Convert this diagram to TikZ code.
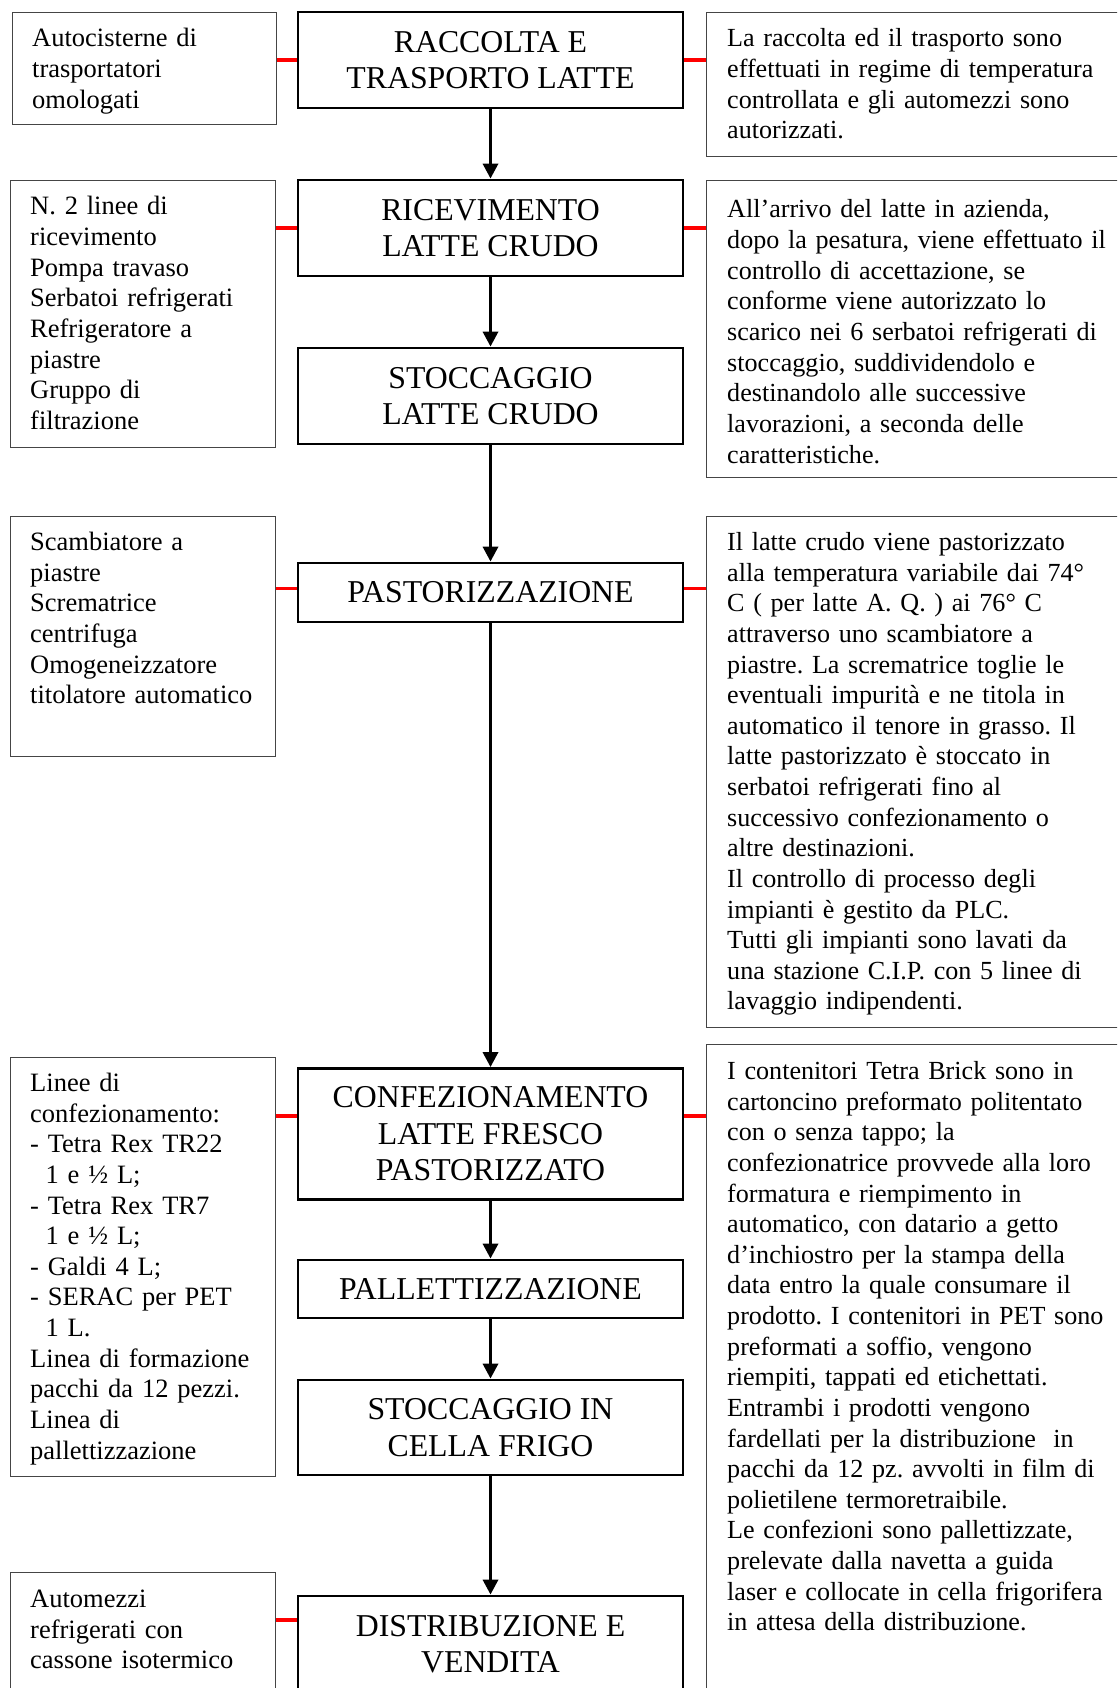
\documentclass[tikz,border=0pt]{standalone}
\usepackage{fontspec}
\setmainfont{Liberation Serif}
\usetikzlibrary{arrows.meta}
\definecolor{sidegray}{HTML}{454545}
\frenchspacing
\begin{document}
\begin{tikzpicture}[x=1pt,y=-1pt,
  cbox/.style={draw=black, line width=2.8pt, minimum width=385pt, align=center,
    inner sep=0pt, font=\fontsize{31.8pt}{36.6pt}\selectfont},
  sbox/.style={draw=sidegray, line width=1.4pt, anchor=north west, inner sep=0pt},
  txt/.style={anchor=base west, inner sep=0pt, align=left},
  ltxt/.style={txt, text width=262pt, font=\fontsize{26.5pt}{30.63pt}\selectfont},
  rtxt/.style={txt, text width=400pt, font=\fontsize{26.1pt}{30.63pt}\selectfont},
  arr/.style={line width=3.3pt, -{Triangle[width=15pt,length=15pt]}},
  redc/.style={draw=red, line width=3.6pt}]
\useasboundingbox (0,0) rectangle (1117,1688);
\clip (0,0) rectangle (1117,1688);
\fill[white] (0,0) rectangle (1117,1688);

% centre column
\node[cbox, minimum height=96pt] (C1) at (490.5,60) {RACCOLTA E\\TRASPORTO LATTE};
\node[cbox, minimum height=96pt] (C2) at (490.5,228) {RICEVIMENTO\\LATTE CRUDO};
\node[cbox, minimum height=96pt] (C3) at (490.5,396) {STOCCAGGIO\\LATTE CRUDO};
\node[cbox, minimum height=59pt] (C4) at (490.5,592.5) {PASTORIZZAZIONE};
\node[cbox, minimum height=131pt] (C5) at (490.5,1134) {CONFEZIONAMENTO\\LATTE FRESCO\\PASTORIZZATO};
\node[cbox, minimum height=58pt] (C6) at (490.5,1289) {PALLETTIZZAZIONE};
\node[cbox, minimum height=95pt] (C7) at (490.5,1427.5) {STOCCAGGIO IN\\CELLA FRIGO};
\node[cbox, minimum height=96pt] (C8) at (490.5,1644) {DISTRIBUZIONE E\\VENDITA};

% left boxes
\node[sbox, minimum width=264pt, minimum height=112pt] (L1) at (12,12) {};
\node[sbox, minimum width=265pt, minimum height=267pt] (L2) at (10,180) {};
\node[sbox, minimum width=265pt, minimum height=240pt] (L3) at (10,516) {};
\node[sbox, minimum width=265pt, minimum height=419pt] (L4) at (10,1057) {};
\node[sbox, minimum width=265pt, minimum height=140pt] (L5) at (10,1572) {};

% right boxes
\node[sbox, minimum width=430pt, minimum height=144pt] (R1) at (706,12) {};
\node[sbox, minimum width=430pt, minimum height=297pt] (R2) at (706,180) {};
\node[sbox, minimum width=430pt, minimum height=511pt] (R3) at (706,516) {};
\node[sbox, minimum width=430pt, minimum height=680pt] (R4) at (706,1044) {};

% texts of the left boxes
\node[ltxt] (L1t) at (32,47) {Autocisterne di\\trasportatori\\omologati};
\node[ltxt] (L2t) at (30,215) {N. 2 linee di\\ricevimento\\Pompa travaso\\Serbatoi refrigerati\\Refrigeratore a\\piastre\\Gruppo di\\filtrazione};
\node[ltxt] (L3t) at (30,550.5) {Scambiatore a\\piastre\\Scrematrice\\centrifuga\\Omogeneizzatore\\titolatore automatico};
\node[ltxt] (L4t) at (30,1091.5) {Linee di\\confezionamento:\\- Tetra Rex TR22\\\hspace*{0.583em}1 e ½ L;\\- Tetra Rex TR7\\\hspace*{0.583em}1 e ½ L;\\- Galdi 4 L;\\- SERAC per PET\\\hspace*{0.583em}1 L.\\Linea di formazione\\pacchi da 12 pezzi.\\Linea di\\pallettizzazione};
\node[ltxt] (L5t) at (30,1607.5) {Automezzi\\refrigerati con\\cassone isotermico};

% texts of the right boxes
\node[rtxt] (R1t) at (727,47) {La raccolta ed il trasporto sono\\effettuati in regime di temperatura\\controllata e gli automezzi sono\\autorizzati.};
\node[rtxt] (R2t) at (727,218) {All’arrivo del latte in azienda,\\dopo la pesatura, viene effettuato il\\controllo di accettazione, se\\conforme viene autorizzato lo\\scarico nei 6 serbatoi refrigerati di\\stoccaggio, suddividendolo e\\destinandolo alle successive\\lavorazioni, a seconda delle\\caratteristiche.};
\node[rtxt] (R3t) at (727,550.5) {Il latte crudo viene pastorizzato\\alla temperatura variabile dai 74°\\C ( per latte A. Q. ) ai 76° C\\attraverso uno scambiatore a\\piastre. La scrematrice toglie le\\eventuali impurità e ne titola in\\automatico il tenore in grasso. Il\\latte pastorizzato è stoccato in\\serbatoi refrigerati fino al\\successivo confezionamento o\\altre destinazioni.\\Il controllo di processo degli\\impianti è gestito da PLC.\\Tutti gli impianti sono lavati da\\una stazione C.I.P. con 5 linee di\\lavaggio indipendenti.};
\node[rtxt] (R4t) at (727,1079.5) {I contenitori Tetra Brick sono in\\cartoncino preformato politentato\\con o senza tappo; la\\confezionatrice provvede alla loro\\formatura e riempimento in\\automatico, con datario a getto\\d’inchiostro per la stampa della\\data entro la quale consumare il\\prodotto. I contenitori in PET sono\\preformati a soffio, vengono\\riempiti, tappati ed etichettati.\\Entrambi i prodotti vengono\\fardellati per la distribuzione \ in\\pacchi da 12 pz. avvolti in film di\\polietilene termoretraibile.\\Le confezioni sono pallettizzate,\\prelevate dalla navetta a guida\\laser e collocate in cella frigorifera\\in attesa della distribuzione.};

% arrows
\draw[arr] (C1) -- (C2);
\draw[arr] (C2) -- (C3);
\draw[arr] (C3) -- (C4);
\draw[arr] (C4) -- (C5);
\draw[arr] (C5) -- (C6);
\draw[arr] (C6) -- (C7);
\draw[arr] (C7) -- (C8);

% red links
\coordinate (a1) at (C1.west);
\coordinate (a2) at (C2.west);
\coordinate (a4) at ([yshift=4pt]C4.west);
\coordinate (a5) at ([yshift=18pt]C5.west);
\coordinate (a8) at ([yshift=24pt]C8.west);
\coordinate (b1) at (C1.east);
\coordinate (b2) at (C2.east);
\coordinate (b4) at ([yshift=4pt]C4.east);
\coordinate (b5) at ([yshift=18pt]C5.east);
\draw[redc] (a1) -- (a1 -| L1.east);
\draw[redc] (a2) -- (a2 -| L2.east);
\draw[redc] (a4) -- (a4 -| L3.east);
\draw[redc] (a5) -- (a5 -| L4.east);
\draw[redc] (a8) -- (a8 -| L5.east);
\draw[redc] (b1) -- (b1 -| R1.west);
\draw[redc] (b2) -- (b2 -| R2.west);
\draw[redc] (b4) -- (b4 -| R3.west);
\draw[redc] (b5) -- (b5 -| R4.west);
\end{tikzpicture}
\end{document}
